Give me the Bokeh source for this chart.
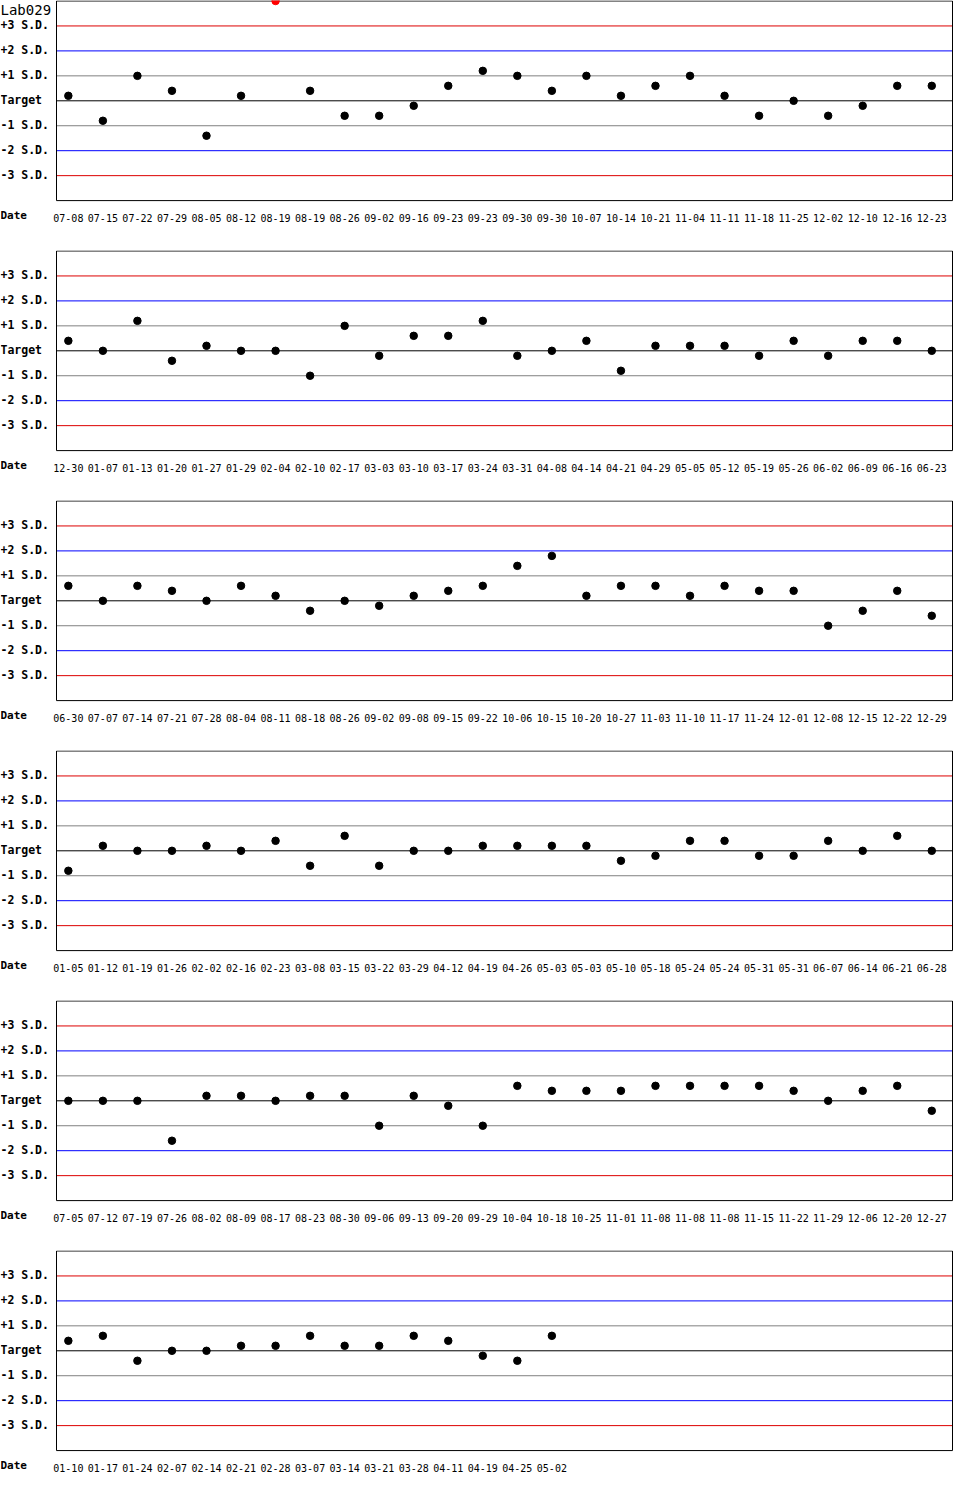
from bokeh.embed import file_html
from bokeh.resources import INLINE
from bokeh.layouts import column
from bokeh.models import ColumnDataSource, Range1d
from bokeh.plotting import figure
from bokeh.core.properties import value

lab_name = "Lab029"

dates1 = ["07-08", "07-15", "07-22", "07-29", "08-05", "08-12", "08-19", "08-19", "08-26",
          "09-02", "09-16", "09-23", "09-23", "09-30", "09-30", "10-07", "10-14", "10-21",
          "11-04", "11-11", "11-18", "11-25", "12-02", "12-10", "12-16", "12-23"]
vals1 = [0.2, -0.8, 1.0, 0.4, -1.4, 0.2, 4.0, 0.4, -0.6,
         -0.6, -0.2, 0.6, 1.2, 1.0, 0.4, 1.0, 0.2, 0.6,
         1.0, 0.2, -0.6, 0.0, -0.6, -0.2, 0.6, 0.6]

dates2 = ["12-30", "01-07", "01-13", "01-20", "01-27", "01-29", "02-04", "02-10", "02-17",
          "03-03", "03-10", "03-17", "03-24", "03-31", "04-08", "04-14", "04-21", "04-29",
          "05-05", "05-12", "05-19", "05-26", "06-02", "06-09", "06-16", "06-23"]
vals2 = [0.4, 0.0, 1.2, -0.4, 0.2, 0.0, 0.0, -1.0, 1.0,
         -0.2, 0.6, 0.6, 1.2, -0.2, 0.0, 0.4, -0.8, 0.2,
         0.2, 0.2, -0.2, 0.4, -0.2, 0.4, 0.4, 0.0]

dates3 = ["06-30", "07-07", "07-14", "07-21", "07-28", "08-04", "08-11", "08-18", "08-26",
          "09-02", "09-08", "09-15", "09-22", "10-06", "10-15", "10-20", "10-27", "11-03",
          "11-10", "11-17", "11-24", "12-01", "12-08", "12-15", "12-22", "12-29"]
vals3 = [0.6, 0.0, 0.6, 0.4, 0.0, 0.6, 0.2, -0.4, 0.0,
         -0.2, 0.2, 0.4, 0.6, 1.4, 1.8, 0.2, 0.6, 0.6,
         0.2, 0.6, 0.4, 0.4, -1.0, -0.4, 0.4, -0.6]

dates4 = ["01-05", "01-12", "01-19", "01-26", "02-02", "02-16", "02-23", "03-08", "03-15",
          "03-22", "03-29", "04-12", "04-19", "04-26", "05-03", "05-03", "05-10", "05-18",
          "05-24", "05-24", "05-31", "05-31", "06-07", "06-14", "06-21", "06-28"]
vals4 = [-0.8, 0.2, 0.0, 0.0, 0.2, 0.0, 0.4, -0.6, 0.6,
         -0.6, 0.0, 0.0, 0.2, 0.2, 0.2, 0.2, -0.4, -0.2,
         0.4, 0.4, -0.2, -0.2, 0.4, 0.0, 0.6, 0.0]

dates5 = ["07-05", "07-12", "07-19", "07-26", "08-02", "08-09", "08-17", "08-23", "08-30",
          "09-06", "09-13", "09-20", "09-29", "10-04", "10-18", "10-25", "11-01", "11-08",
          "11-08", "11-08", "11-15", "11-22", "11-29", "12-06", "12-20", "12-27"]
vals5 = [0.0, 0.0, 0.0, -1.6, 0.2, 0.2, 0.0, 0.2, 0.2,
         -1.0, 0.2, -0.2, -1.0, 0.6, 0.4, 0.4, 0.4, 0.6,
         0.6, 0.6, 0.6, 0.4, 0.0, 0.4, 0.6, -0.4]

dates6 = ["01-10", "01-17", "01-24", "02-07", "02-14", "02-21", "02-28", "03-07", "03-14",
          "03-21", "03-28", "04-11", "04-19", "04-25", "05-02"]
vals6 = [0.4, 0.6, -0.4, 0.0, 0.0, 0.2, 0.2, 0.6, 0.2,
         0.2, 0.6, 0.4, -0.2, -0.4, 0.6]

sd_levels = [3, 2, 1, 0, -1, -2, -3]
sd_labels = ["+3 S.D.", "+2 S.D.", "+1 S.D.", "Target", "-1 S.D.", "-2 S.D.", "-3 S.D."]
sd_colors = ["#dd0000", "#0000ff", "#808080", "#000000", "#808080", "#0000ff", "#dd0000"]

W = 954
LEFT = 56      # label column, px
RIGHT = 2
BOX_H = 200    # chart box height, px
X0, X1 = -0.343, 25.6   # box x extent (point index units)
Y0, Y1 = -4, 4          # box y extent (S.D. units)
MONO = "DejaVu Sans Mono"


def make_panel(dates, vals, title=None, height=250):
    ppu = (W - LEFT - RIGHT) / (X1 - X0)   # px per x unit
    ppy = BOX_H / (Y1 - Y0)                # px per y unit
    xa = X0 - LEFT / ppu
    xb = X1 + RIGHT / ppu
    yb = Y0 - (height - BOX_H) / ppy
    yt = Y1 + 0.5 / ppy

    idx = list(range(len(dates)))
    colors = ["#ff0000" if abs(v) >= Y1 else "#000000" for v in vals]
    src = ColumnDataSource(data=dict(x=idx, y=vals, c=colors, d=dates,
                                     ly=[Y0 - 17 / ppy] * len(idx)))
    lvl_src = ColumnDataSource(data=dict(y=sd_levels, lab=sd_labels, c=sd_colors,
                                         x0=[X0] * 7, x1=[X1] * 7, xl=[xa] * 7))

    p = figure(width=W, height=height, output_backend="svg", toolbar_location=None,
               x_range=Range1d(xa, xb), y_range=Range1d(yb, yt),
               min_border=0, x_axis_type=None, y_axis_type=None)
    p.xgrid.visible = False
    p.ygrid.visible = False
    p.outline_line_color = None
    p.background_fill_color = "white"
    p.border_fill_color = "white"

    # S.D. reference lines
    p.segment(x0="x0", y0="y", x1="x1", y1="y", line_color="c", line_width=1, source=lvl_src)
    # chart box
    p.quad(left=[X0], right=[X1], bottom=[Y0], top=[Y1], fill_color=None,
           line_color="black", line_width=1)

    p.text(x="xl", y="y", text="lab", source=lvl_src, text_font=value(MONO),
           text_font_size="11.5px", text_font_style="bold", text_baseline="middle",
           text_align="left", y_offset=-1, text_color="black")
    p.text(x=[xa], y=[Y0 - 15 / ppy], text=["Date"], text_font=value(MONO),
           text_font_size="11px", text_font_style="bold", text_baseline="middle",
           text_align="left", text_color="black")
    if title:
        p.text(x=[xa], y=[Y1 - 1 / ppy], text=[title], text_font=value(MONO),
               text_font_size="14px", text_baseline="top", text_align="left",
               text_color="black")

    # date labels under each point
    p.text(x="x", y="ly", text="d", source=src, text_font=value(MONO),
           text_font_size="10px", text_baseline="middle", text_align="center",
           text_color="black")

    p.scatter("x", "y", source=src, size=7.5, color="c", line_color="c")
    return p


panels = [
    make_panel(dates1, vals1, title=lab_name),
    make_panel(dates2, vals2),
    make_panel(dates3, vals3),
    make_panel(dates4, vals4),
    make_panel(dates5, vals5),
    make_panel(dates6, vals6, height=232),
]

layout = column(*panels, spacing=0)
open("out.html", "w").write(file_html(layout, INLINE))
